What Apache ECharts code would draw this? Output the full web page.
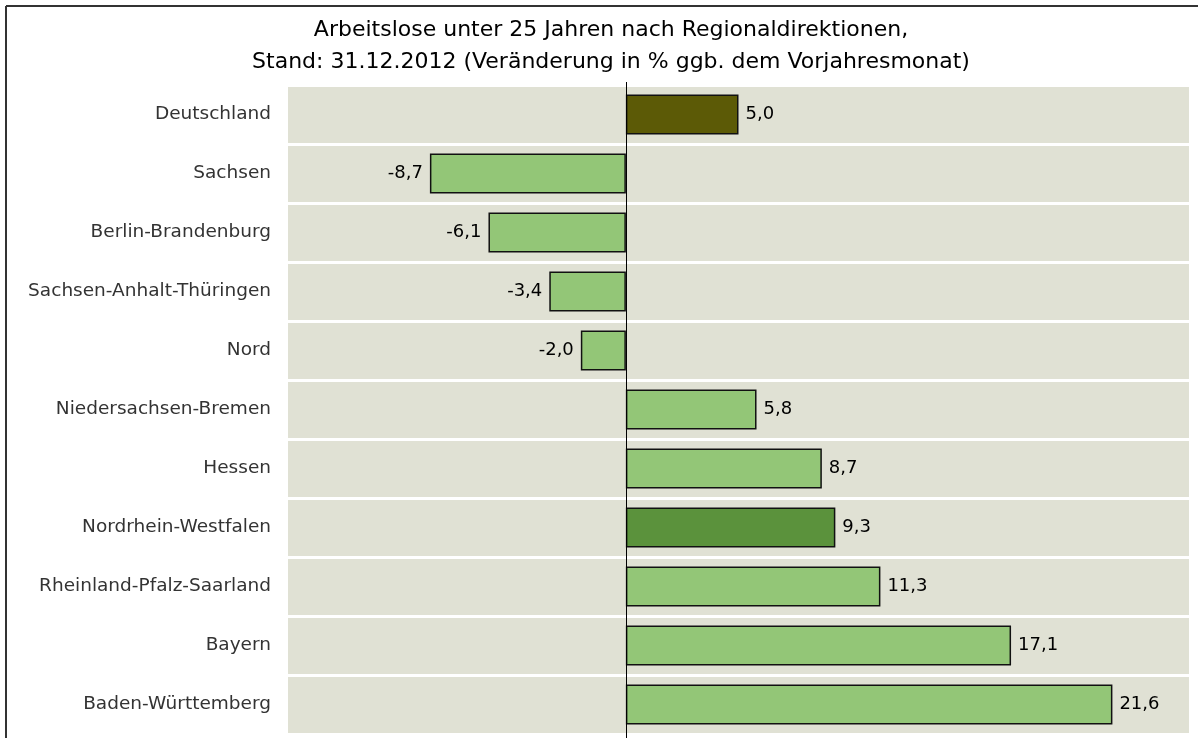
<!DOCTYPE html>
<html>
<head>
<meta charset="utf-8">
<script src="https://cdn.jsdelivr.net/npm/echarts@6/dist/echarts.min.js"></script>
<style>
  html, body { margin: 0; padding: 0; background: #fff; }
  #chart { width: 1198px; height: 738px; }
</style>
</head>
<body>
<div id="chart"></div>
<script>
var regions = ['Deutschland', 'Sachsen', 'Berlin-Brandenburg', 'Sachsen-Anhalt-Thüringen', 'Nord',
  'Niedersachsen-Bremen', 'Hessen', 'Nordrhein-Westfalen', 'Rheinland-Pfalz-Saarland', 'Bayern', 'Baden-Württemberg'];
var changes = [5.0, -8.7, -6.1, -3.4, -2.0, 5.8, 8.7, 9.3, 11.3, 17.1, 21.6];

// Farben: Deutschland dunkel, NRW hervorgehoben, Rest hellgrün
var barColor = function (name) {
  if (name === 'Deutschland') return '#5c5a06';
  if (name === 'Nordrhein-Westfalen') return '#5b923c';
  return '#93c677';
};

var chart = echarts.init(document.getElementById('chart'));
var option = {
  animation: false,
  title: {
    text: 'Arbeitslose unter 25 Jahren nach Regionaldirektionen,\nStand: 31.12.2012 (Veränderung in % ggb. dem Vorjahresmonat)',
    left: 606,
    top: 9,
    textAlign: 'center',
    textStyle: {
      fontFamily: 'DejaVu Sans',
      fontWeight: 'normal',
      fontSize: 22,
      lineHeight: 32,
      color: '#000'
    }
  },
  graphic: [
    { type: 'line', shape: { x1: 6, y1: 6, x2: 6, y2: 738 }, style: { stroke: '#333', lineWidth: 2 } },
    { type: 'line', shape: { x1: 6, y1: 6, x2: 1198, y2: 6 }, style: { stroke: '#333', lineWidth: 2 } },
    // Nulllinie ragt etwas über die Plotfläche hinaus
    { type: 'line', z: 10, shape: { x1: 626.5, y1: 82, x2: 626.5, y2: 738 }, style: { stroke: '#000', lineWidth: 1 } }
  ],
  grid: {
    left: 288,
    right: 9,
    top: 85,
    bottom: 4
  },
  xAxis: {
    type: 'value',
    min: -15,
    max: 25,
    show: false
  },
  yAxis: {
    type: 'category',
    data: regions,
    inverse: true,
    axisLine: { show: false },
    axisTick: { show: false },
    axisLabel: {
      margin: 17,
      fontFamily: 'DejaVu Sans',
      fontSize: 18.5,
      color: '#333'
    },
    splitArea: {
      show: true,
      areaStyle: { color: ['#e0e1d4', '#e0e1d4'] }
    },
    splitLine: {
      show: true,
      lineStyle: { color: '#fff', width: 3 }
    }
  },
  series: [{
    type: 'bar',
    barWidth: 40,
    data: changes.map(function (v, i) {
      return {
        value: v,
        itemStyle: { color: barColor(regions[i]) },
        label: { position: v < 0 ? 'left' : 'right' }
      };
    }),
    itemStyle: {
      borderColor: '#111',
      borderWidth: 1.5
    },
    label: {
      show: true,
      distance: 7,
      fontFamily: 'DejaVu Sans',
      fontSize: 18,
      color: '#000',
      formatter: function (p) {
        return p.value.toFixed(1).replace('.', ',');
      }
    },
    z: 3
  }]
};
chart.setOption(option);
</script>
</body>
</html>
